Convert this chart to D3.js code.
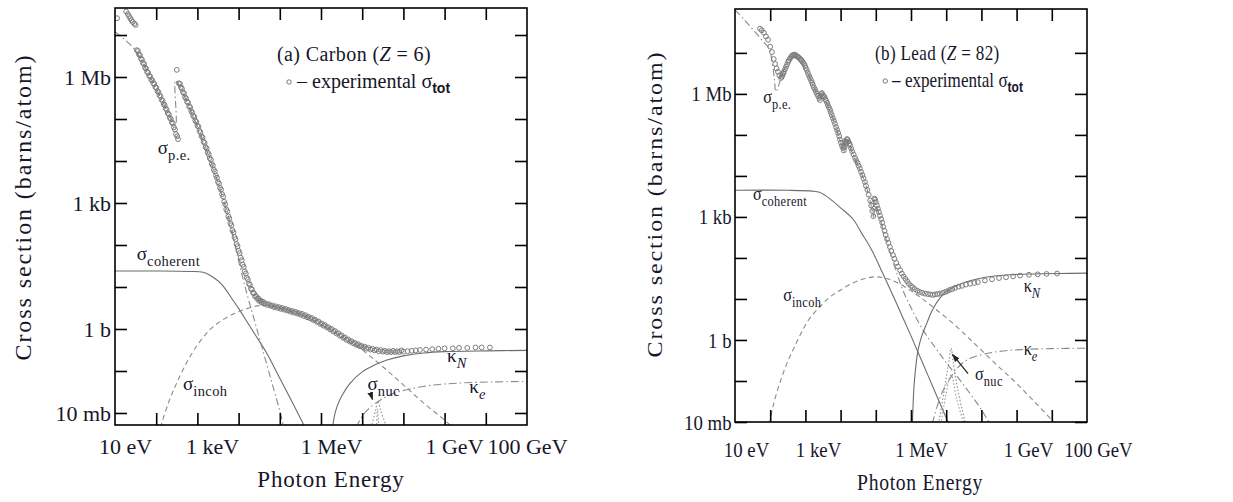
<!DOCTYPE html>
<html>
<head>
<meta charset="utf-8">
<script src="https://cdn.jsdelivr.net/npm/d3@7"></script>
<style>
  body { margin: 0; background: #fff; }
  text { font-family: "Liberation Serif", "Times New Roman", serif; fill: #16162a; }
</style>
</head>
<body>
<svg id="chart" width="1233" height="502"></svg>
<script>
// all values stored as [log10(E / eV), log10(sigma / barn)]

const energyTicks = [1e1, 1e3, 1e6, 1e9, 1e11];
const energyLabels = ["10 eV", "1 keV", "1 MeV", "1 GeV", "100 GeV"];
const sigmaTicks = [1e-2, 1, 1e3, 1e6];
const sigmaLabels = ["10 mb", "1 b", "1 kb", "1 Mb"];

// ---- (a) carbon ----
const carbonTot = [
  [1.05,7.40],[1.27,7.56],[1.31,7.50],[1.34,7.45],[1.37,7.40],[1.40,7.35],[1.43,7.31],[1.47,7.27],[1.50,7.24],
  [1.53,6.64],[1.58,6.54],[1.63,6.44],[1.68,6.33],[1.73,6.22],[1.78,6.12],[1.83,6.03],[1.88,5.93],[1.93,5.85],
  [1.98,5.76],[2.03,5.66],[2.08,5.56],[2.13,5.46],[2.18,5.36],[2.23,5.25],[2.28,5.14],[2.33,5.03],[2.38,4.92],
  [2.43,4.80],[2.48,4.64],[2.53,4.52],
  [1.555,6.62],[1.605,6.52],[1.655,6.41],[1.705,6.31],[1.755,6.20],[1.805,6.10],[1.855,6.01],[1.905,5.92],
  [1.955,5.83],[2.005,5.74],[2.055,5.64],[2.105,5.54],[2.155,5.44],[2.205,5.33],[2.255,5.22],[2.305,5.11],
  [2.355,5.00],[2.405,4.89],[2.455,4.75],[2.51,4.59],
  [2.50,6.17],[2.55,5.85],[2.60,5.76],[2.65,5.64],[2.70,5.52],[2.75,5.41],[2.80,5.30],[2.85,5.19],[2.90,5.07],
  [2.95,4.96],[3.00,4.84],[3.05,4.72],[3.10,4.59],[3.15,4.46],[3.20,4.33],[3.25,4.20],[3.30,4.07],[3.35,3.93],
  [3.40,3.79],[3.45,3.65],[3.50,3.50],[3.55,3.36],[3.60,3.21],[3.65,3.03],[3.70,2.85],[3.75,2.68],[3.80,2.52],
  [3.85,2.35],[3.90,2.19],[3.95,2.02],[4.00,1.86],[4.05,1.70],[4.10,1.53],[4.15,1.37],[4.20,1.22],[4.25,1.08],
  [4.30,0.96],[4.35,0.86],[4.40,0.78],[4.45,0.72],[4.50,0.67],[4.56,0.63],[4.62,0.60],[4.70,0.57],[4.78,0.55],
  [4.86,0.52],[4.94,0.50],[5.02,0.48],[5.10,0.46],[5.18,0.44],[5.26,0.41],[5.34,0.39],[5.42,0.37],[5.50,0.34],
  [5.58,0.31],[5.66,0.28],[5.74,0.25],[5.82,0.21],[5.90,0.17],[5.98,0.12],[6.06,0.08],[6.14,0.04],[6.22,-0.01],
  [6.30,-0.06],[6.38,-0.11],[6.46,-0.16],[6.54,-0.21],[6.62,-0.26],[6.70,-0.30],[6.78,-0.34],[6.86,-0.38],
  [6.94,-0.41],[7.02,-0.44],[7.10,-0.47],[7.20,-0.49],[7.30,-0.51],[7.40,-0.53],[7.50,-0.54],[7.60,-0.55],
  [7.70,-0.55],[7.80,-0.55],[7.90,-0.55],[8.00,-0.54],[8.10,-0.53],[8.20,-0.52],[8.30,-0.51],[8.40,-0.50],
  [8.55,-0.49],[8.70,-0.48],[8.85,-0.47],[9.00,-0.46],[9.20,-0.46],[9.35,-0.45],[9.55,-0.45],[9.75,-0.44],
  [9.90,-0.44],[10.10,-0.44],
  [2.575,5.84],[2.625,5.72],[2.675,5.61],[2.725,5.49],[2.775,5.39],[2.825,5.28],[2.875,5.15],[2.925,5.05],
  [2.975,4.93],[3.025,4.82],[3.075,4.68],[3.125,4.56],[3.175,4.43],[3.225,4.30],[3.275,4.16],[3.325,4.03],
  [3.375,3.89],[3.425,3.75],[3.475,3.60],[3.525,3.46],[3.575,3.32],[3.625,3.15],[3.675,2.97],[3.725,2.80],
  [3.775,2.63],[3.825,2.47],[3.875,2.30],[3.925,2.14],[3.975,1.97],[4.025,1.81],[4.075,1.64],[4.125,1.48],
  [4.175,1.32],[4.225,1.18],[4.275,1.05],[4.325,0.94],[4.375,0.85],[4.425,0.78],[4.475,0.73],[4.53,0.68],
  [4.59,0.65],[4.66,0.61],[4.74,0.59],[4.82,0.56],[4.90,0.54],[4.98,0.52],[5.06,0.50],[5.14,0.48],[5.22,0.45],
  [5.30,0.43],[5.38,0.41],[5.46,0.38],[5.54,0.36],[5.62,0.33],[5.70,0.29],[5.78,0.26],[5.86,0.22],[5.94,0.18],
  [6.02,0.13],[6.10,0.09],[6.18,0.04],[6.26,0.00],[6.34,-0.05],[6.42,-0.10],[6.50,-0.15],[6.58,-0.20],
  [6.66,-0.25],[6.74,-0.29],[6.82,-0.33],[6.90,-0.36],[6.98,-0.40],[7.06,-0.42],[7.15,-0.45],[7.25,-0.47],
  [7.35,-0.49],[7.45,-0.50],[7.55,-0.52],[7.65,-0.53],[7.75,-0.52],[7.85,-0.53],[7.95,-0.51]
];
const carbonPE = [
  [1.0,7.08],[1.2,6.92],[1.44,6.70],[1.6,6.48],[1.8,6.10],[2.0,5.72],[2.2,5.32],[2.35,5.02],[2.47,4.85],
  [2.47,5.92],[2.6,5.72],[2.8,5.28],[3.0,4.82],[3.2,4.32],[3.4,3.78],[3.6,3.18],[3.8,2.50],[4.0,1.62],
  [4.2,0.85],[4.4,0.15],[4.6,-0.55],[4.8,-1.25],[5.0,-1.95],[5.1,-2.35]
];
const carbonCoh = [
  [1.0,1.38],[2.0,1.38],[2.8,1.37],[3.14,1.35],[3.4,1.22],[3.6,1.05],[3.86,0.69],[4.0,0.49],[4.2,0.18],
  [4.4,-0.13],[4.68,-0.57],[5.0,-1.17],[5.3,-1.74],[5.6,-2.32]
];
const carbonIncoh = [
  [2.1,-2.35],[2.3,-1.75],[2.5,-1.28],[2.74,-0.80],[3.0,-0.38],[3.2,-0.13],[3.38,0.05],[3.7,0.27],[4.03,0.42],
  [4.4,0.54],[4.7,0.56],[5.0,0.50],[5.5,0.35],[6.0,0.11],[6.5,-0.18],[7.0,-0.50],[7.5,-0.90],[8.0,-1.33],
  [8.5,-1.77],[9.0,-2.17],[9.2,-2.35]
];
const carbonKappaN = [
  [6.28,-2.35],[6.33,-2.05],[6.4,-1.82],[6.5,-1.60],[6.7,-1.30],[7.0,-1.02],[7.3,-0.86],[7.6,-0.74],
  [8.0,-0.64],[8.5,-0.57],[9.0,-0.54],[10.0,-0.52],[11.0,-0.51]
];
const carbonKappaE = [
  [6.85,-2.35],[7.0,-2.08],[7.2,-1.86],[7.5,-1.66],[7.8,-1.52],[8.2,-1.42],[8.6,-1.35],[9.0,-1.31],
  [9.5,-1.28],[10.2,-1.26],[11.0,-1.25]
];
const carbonNucA = [[7.22,-2.35],[7.32,-1.95],[7.38,-1.72],[7.45,-1.95],[7.6,-2.35]];
const carbonNucB = [[7.35,-2.35],[7.37,-1.90],[7.40,-2.35]];

// ---- (b) lead ----
const leadTot = [
  [1.71,7.59],[1.76,7.55],[1.82,7.49],[1.88,7.40],[1.94,7.32],[2.00,7.15],[2.05,7.02],[2.10,6.85],[2.14,6.73],
  [2.18,6.62],[2.22,6.54],[2.26,6.45],[2.31,6.39],[2.35,6.46],[2.39,6.54],[2.45,6.66],[2.51,6.78],[2.56,6.86],
  [2.62,6.93],[2.68,6.94],[2.73,6.93],[2.79,6.90],[2.85,6.85],[2.90,6.80],[2.96,6.73],[3.01,6.63],[3.07,6.51],
  [3.13,6.39],[3.19,6.27],[3.24,6.16],[3.30,6.05],[3.36,5.95],[3.41,5.85],[3.45,6.00],[3.49,5.97],[3.54,5.92],
  [3.59,5.83],[3.64,5.72],[3.70,5.61],[3.75,5.48],[3.81,5.34],[3.87,5.19],[3.93,5.05],[3.98,4.89],[4.04,4.73],
  [4.09,4.62],[4.12,4.85],[4.15,4.78],[4.18,4.90],[4.22,4.84],[4.27,4.74],[4.33,4.60],[4.41,4.44],[4.48,4.32],
  [4.55,4.18],[4.62,4.02],[4.69,3.85],[4.76,3.66],[4.84,3.40],[4.90,3.15],[4.93,3.02],[4.96,3.45],[5.00,3.36],
  [5.06,3.20],[5.12,3.03],[5.18,2.86],[5.25,2.66],[5.32,2.46],[5.40,2.27],[5.49,2.07],[5.58,1.88],[5.69,1.70],
  [5.79,1.55],[5.89,1.43],[6.00,1.32],[6.11,1.24],[6.25,1.17],[6.40,1.13],[6.55,1.11],[6.68,1.11],[6.82,1.13],
  [6.97,1.17],[7.10,1.22],[7.25,1.27],[7.45,1.32],[7.68,1.37],[7.90,1.41],[8.10,1.45],[8.30,1.48],[8.50,1.51],
  [8.70,1.53],[8.90,1.55],[9.10,1.57],[9.35,1.59],[9.60,1.60],[9.85,1.61],[10.15,1.62],
  [2.33,6.42],[2.37,6.50],[2.42,6.60],[2.48,6.72],[2.53,6.82],[2.59,6.90],[2.65,6.95],[2.70,6.96],[2.76,6.92],
  [2.82,6.88],[2.88,6.83],[2.93,6.77],[2.99,6.68],[3.04,6.58],[3.10,6.45],[3.16,6.33],[3.21,6.22],[3.27,6.11],
  [3.33,6.00],[3.39,5.90],[3.43,5.95],[3.47,6.02],[3.52,5.95],[3.57,5.87],[3.62,5.78],[3.67,5.67],[3.72,5.55],
  [3.78,5.41],[3.84,5.27],[3.90,5.12],[3.96,4.97],[4.01,4.81],[4.07,4.68],[4.11,4.70],[4.14,4.82],[4.17,4.83],
  [4.20,4.88],[4.25,4.79],[4.30,4.67],[4.37,4.52],[4.44,4.38],[4.51,4.25],[4.58,4.10],[4.65,3.94],[4.72,3.76],
  [4.80,3.54],[4.87,3.28],[4.95,3.20],[4.98,3.42],[5.03,3.28],[5.09,3.12],[5.15,2.95],[5.21,2.76],[5.28,2.56],
  [5.36,2.37],[5.44,2.17],[5.53,1.98],[5.63,1.79],[5.74,1.62],[5.84,1.49],[5.94,1.37],[6.05,1.28],[6.18,1.20],
  [6.32,1.15],[6.48,1.12],[6.62,1.10],[6.75,1.12],[6.90,1.15],[7.03,1.19],[7.17,1.24],[7.35,1.30],[7.56,1.35],
  [7.80,1.39]
];
const leadPE = [
  [1.0,8.05],[1.25,7.82],[1.5,7.58],[1.75,7.33],[1.97,7.10],[2.06,6.75],[2.12,6.35],[2.16,6.05],[2.21,6.12],
  [2.28,6.32],[2.38,6.56],[2.5,6.76],[2.62,6.88],[2.72,6.90],[2.85,6.83],[3.0,6.62],[3.2,6.25],[3.41,5.84],
  [3.42,5.98],[3.6,5.78],[3.8,5.36],[4.0,4.82],[4.1,4.58],[4.11,4.80],[4.2,4.86],[4.3,4.64],[4.5,4.24],
  [4.7,3.82],[4.85,3.35],[4.94,3.0],[4.95,3.42],[5.2,2.72],[5.4,2.15],[5.6,1.62],[5.8,1.15],[6.0,0.79],
  [6.3,0.30],[6.7,-0.20],[7.0,-0.55],[7.5,-1.10],[8.0,-1.70],[8.2,-1.98],[8.3,-2.10]
];
const leadCoh = [
  [1.0,3.65],[2.5,3.65],[3.2,3.63],[3.4,3.60],[3.7,3.44],[4.0,3.22],[4.35,2.95],[4.6,2.60],[4.88,2.20],
  [5.2,1.62],[5.6,0.87],[6.0,0.10],[6.5,-0.90],[7.0,-1.90],[7.1,-2.10]
];
const leadIncoh = [
  [1.98,-2.05],[2.1,-1.55],[2.3,-0.98],[2.5,-0.52],[2.65,-0.24],[2.85,0.12],[3.1,0.50],[3.41,0.81],
  [3.7,1.05],[4.0,1.22],[4.35,1.39],[4.7,1.50],[5.03,1.54],[5.3,1.50],[5.6,1.40],[6.0,1.20],[6.3,1.02],
  [6.7,0.75],[7.2,0.40],[7.6,0.08],[8.0,-0.25],[8.5,-0.66],[9.0,-1.06],[9.5,-1.50],[10.0,-1.95],[10.1,-2.05]
];
const leadKappaN = [
  [6.04,-2.05],[6.08,-1.20],[6.13,-0.70],[6.2,-0.25],[6.3,0.08],[6.45,0.41],[6.6,0.72],[6.82,1.02],
  [7.0,1.18],[7.3,1.33],[7.7,1.45],[8.2,1.54],[8.8,1.59],[9.5,1.61],[10.2,1.62],[11.0,1.63]
];
const leadKappaE = [
  [6.6,-2.05],[6.75,-1.60],[6.9,-1.25],[7.1,-0.95],[7.3,-0.70],[7.6,-0.48],[8.0,-0.36],[8.5,-0.28],
  [9.2,-0.23],[10.0,-0.21],[11.0,-0.20]
];
const leadNucA = [[6.78,-2.05],[6.95,-1.20],[7.08,-0.50],[7.14,-0.20],[7.2,-0.55],[7.35,-1.30],[7.55,-2.05]];
const leadNucB = [[6.85,-2.05],[7.0,-1.30],[7.14,-0.85],[7.3,-1.45],[7.5,-2.05]];

const svg = d3.select("#chart");
const pow = d => [Math.pow(10, d[0]), Math.pow(10, d[1])];

svg.append("defs").append("marker")
  .attr("id", "arrowHead").attr("viewBox", "0 0 10 10")
  .attr("refX", 9).attr("refY", 5)
  .attr("markerWidth", 7).attr("markerHeight", 7)
  .attr("orient", "auto")
  .append("path").attr("d", "M0,1.5 L10,5 L0,8.5 Z").attr("fill", "#222");

function drawPanel(p) {
  const x = d3.scaleLog().domain([1e1, 1e11]).range([p.left, p.right]);
  const y = d3.scaleLog().domain([p.yMin, p.yMax]).range([p.bottom, p.top]);
  const g = svg.append("g");
  const sx = p.squeeze;

  // text placed at (tx, ty), squeezed horizontally like the source panel
  const label = (tx, ty, size) => g.append("text")
    .attr("transform", `translate(${tx},${ty}) scale(${sx},1)`)
    .style("font-size", size + "px");

  const clipId = "clip" + p.id;
  g.append("clipPath").attr("id", clipId).append("rect")
    .attr("x", p.left).attr("y", p.top)
    .attr("width", p.right - p.left).attr("height", p.bottom - p.top);

  const line = d3.line()
    .x(d => x(d[0])).y(d => y(d[1]))
    .curve(d3.curveCatmullRom.alpha(0.5));

  const plot = g.append("g").attr("clip-path", `url(#${clipId})`);

  const curves = [
    { data: p.coh, dash: null, color: "#6d6d6d" },
    { data: p.incoh, dash: "5,3.5", color: "#8a8a8a" },
    { data: p.pe, dash: "7,3,1.5,3", color: "#8a8a8a" },
    { data: p.kappaN, dash: null, color: "#6d6d6d" },
    { data: p.kappaE, dash: "8,3,1.5,3", color: "#8a8a8a" },
    { data: p.nucA, dash: "1.5,2", color: "#8a8a8a" },
    { data: p.nucB, dash: "1.5,2", color: "#9a9a9a" }
  ];
  curves.forEach(c => {
    plot.append("path")
      .datum(c.data.map(pow))
      .attr("d", line)
      .attr("fill", "none")
      .attr("stroke", c.color)
      .attr("stroke-width", 1.1)
      .attr("stroke-dasharray", c.dash);
  });

  plot.selectAll("circle.tot")
    .data(p.tot.map(pow))
    .enter().append("circle")
    .attr("class", "tot")
    .attr("cx", d => x(d[0]))
    .attr("cy", d => y(d[1]))
    .attr("r", 2.4)
    .attr("fill", "none")
    .attr("stroke", "#7c7c7c")
    .attr("stroke-width", 1);

  // inward ticks on all four sides
  const xt = [1e2, 1e3, 1e4, 1e5, 1e6, 1e7, 1e8, 1e9, 1e10];
  const yt = [1e-2, 1e-1, 1, 1e1, 1e2, 1e3, 1e4, 1e5, 1e6, 1e7];
  const strip = s => s.select(".domain").remove();
  const styleTicks = s => s.selectAll("line").attr("stroke", "#000").attr("stroke-width", 1.6);
  g.append("g").attr("transform", `translate(0,${p.bottom})`)
    .call(d3.axisBottom(x).tickValues(xt).tickSize(-12).tickFormat(""))
    .call(strip).call(styleTicks);
  g.append("g").attr("transform", `translate(0,${p.top})`)
    .call(d3.axisTop(x).tickValues(xt).tickSize(-12).tickFormat(""))
    .call(strip).call(styleTicks);
  g.append("g").attr("transform", `translate(${p.left},0)`)
    .call(d3.axisLeft(y).tickValues(yt).tickSize(-12).tickFormat(""))
    .call(strip).call(styleTicks);
  g.append("g").attr("transform", `translate(${p.right},0)`)
    .call(d3.axisRight(y).tickValues(yt).tickSize(-12).tickFormat(""))
    .call(strip).call(styleTicks);

  // tick labels
  const xl = g.append("g").attr("transform", `translate(0,${p.bottom})`)
    .call(d3.axisBottom(x).tickValues(energyTicks).tickSize(0).tickPadding(p.xPad)
      .tickFormat((d, i) => energyLabels[i]))
    .call(strip);
  xl.attr("font-family", null).attr("font-size", null);
  xl.selectAll("text").style("font-size", "22px")
    .attr("fill", "#16162a")
    .attr("transform", (d, i) => `translate(${p.labelShift[i]},0) scale(${sx},1)`);

  const yl = g.append("g").attr("transform", `translate(${p.left},0)`)
    .call(d3.axisLeft(y).tickValues(sigmaTicks).tickSize(0).tickPadding(4)
      .tickFormat((d, i) => sigmaLabels[i]))
    .call(strip);
  yl.attr("font-family", null).attr("font-size", null);
  yl.selectAll("text").style("font-size", "22px")
    .attr("fill", "#16162a")
    .attr("transform", `scale(${sx},1)`);

  // frame
  g.append("rect")
    .attr("x", p.left).attr("y", p.top)
    .attr("width", p.right - p.left).attr("height", p.bottom - p.top)
    .attr("fill", "none").attr("stroke", "#000").attr("stroke-width", 1.6);

  // axis titles
  label(p.xTitle[0], p.xTitle[1], 23)
    .attr("text-anchor", "middle").style("letter-spacing", "0.8px")
    .text("Photon Energy");
  g.append("text")
    .attr("transform", `translate(${p.yTitle[0]},${p.yTitle[1]}) scale(${sx},1) rotate(-90)`)
    .attr("text-anchor", "middle").style("font-size", "24px")
    .attr("textLength", 305).attr("lengthAdjust", "spacing")
    .text("Cross section  (barns/atom)");

  // panel title and legend
  const title = label(p.titleX, p.titleY, 20).style("letter-spacing", "0.4px");
  title.append("tspan").text(p.name + " (");
  title.append("tspan").style("font-style", "italic").text("Z");
  title.append("tspan").text(" = " + p.z + ")");

  g.append("circle").attr("cx", p.titleX + 12 * sx).attr("cy", p.titleY + 21).attr("r", 2.2)
    .attr("fill", "none").attr("stroke", "#666").attr("stroke-width", 0.9);
  const leg = label(p.titleX + 20 * sx, p.titleY + 27, 20);
  leg.append("tspan").text("– experimental σ");
  leg.append("tspan").attr("dy", 5).style("font-size", "14px")
    .style("font-family", "Liberation Sans").style("font-weight", "bold").text("tot");

  // curve labels
  p.labels.forEach(l => {
    const t = label(x(Math.pow(10, l[0])), y(Math.pow(10, l[1])), 19);
    t.append("tspan").text(l[2]);
    t.append("tspan").attr("dy", 6).style("font-size", "14.5px").style("letter-spacing", "0.4px")
      .style("font-style", l[4] ? "italic" : "normal").text(l[3]);
  });

  // small arrow to the nuclear resonance
  const a = p.arrow;
  g.append("line")
    .attr("x1", x(Math.pow(10, a[0]))).attr("y1", y(Math.pow(10, a[1])))
    .attr("x2", x(Math.pow(10, a[2]))).attr("y2", y(Math.pow(10, a[3])))
    .attr("stroke", "#222").attr("stroke-width", 1.2)
    .attr("marker-end", "url(#arrowHead)");
}

drawPanel({
  id: "a", name: "(a) Carbon", z: "6", squeeze: 1,
  left: 115, right: 527, top: 8, bottom: 425,
  yMin: Math.pow(10, -2.286), yMax: Math.pow(10, 7.643),
  xPad: 13.5, labelShift: [10, 14.6, 10, 9.4, 0],
  xTitle: [331, 487], yTitle: [31, 208],
  titleX: 277, titleY: 61,
  tot: carbonTot, pe: carbonPE, coh: carbonCoh, incoh: carbonIncoh,
  kappaN: carbonKappaN, kappaE: carbonKappaE, nucA: carbonNucA, nucB: carbonNucB,
  labels: [
    [2.04, 4.17, "σ", "p.e."],
    [1.53, 1.64, "σ", "coherent"],
    [2.65, -1.45, "σ", "incoh"],
    [7.13, -1.45, "σ", "nuc"],
    [9.06, -0.79, "κ", "N", true],
    [9.6, -1.52, "κ", "e", true]
  ],
  arrow: [7.2, -1.53, 7.25, -1.68]
});

drawPanel({
  id: "b", name: "(b) Lead", z: "82", squeeze: 0.855,
  left: 735, right: 1087, top: 9, bottom: 422,
  yMin: 1e-2, yMax: Math.pow(10, 8.07),
  xPad: 19, labelShift: [11, 12.6, 10, 11.4, 11],
  xTitle: [920, 490], yTitle: [662, 205],
  titleX: 875, titleY: 60,
  tot: leadTot, pe: leadPE, coh: leadCoh, incoh: leadIncoh,
  kappaN: leadKappaN, kappaE: leadKappaE, nucA: leadNucA, nucB: leadNucB,
  labels: [
    [1.8, 5.78, "σ", "p.e."],
    [1.51, 3.42, "σ", "coherent"],
    [2.37, 0.95, "σ", "incoh"],
    [7.82, -0.98, "σ", "nuc"],
    [9.2, 1.17, "κ", "N", true],
    [9.2, -0.37, "κ", "e", true]
  ],
  arrow: [7.62, -0.82, 7.18, -0.35]
});
</script>
</body>
</html>
